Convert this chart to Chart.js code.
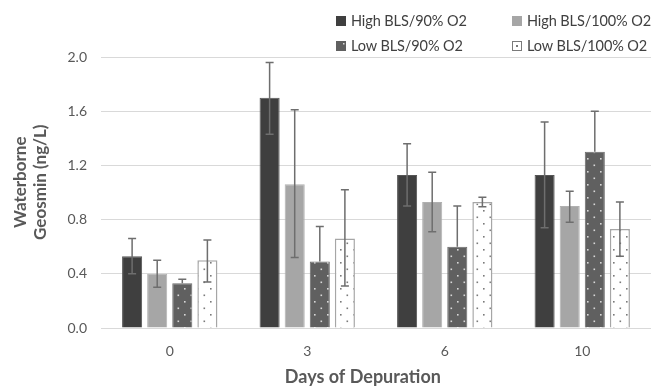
<!DOCTYPE html>
<html>
<head>
<meta charset="utf-8">
<script src="https://cdn.jsdelivr.net/npm/chart.js@4.4.1/dist/chart.umd.min.js"></script>
<style>
  body { margin: 0; background: #fff; font-family: Lato, "Open Sans", sans-serif; }
  #wrap { position: relative; width: 651px; height: 386px; overflow: hidden; }
  #legend { position: absolute; left: 336px; top: 12px; width: 315px; font-size: 14.5px; letter-spacing: -0.1px; color: #404040; }
  .item { position: absolute; display: flex; align-items: center; white-space: nowrap; }
  .item canvas { margin-right: 5px; }
</style>
</head>
<body>
<div id="wrap">
  <canvas id="chart" width="651" height="386"></canvas>
  <div id="legend"></div>
</div>
<script>
  // Donnees
  const days = ["0", "3", "6", "10"];
  const seriesNames = ["High BLS/90% O2", "High BLS/100% O2", "Low BLS/90% O2", "Low BLS/100% O2"];

  const high90 = [0.53, 1.70, 1.13, 1.13];
  const high100 = [0.40, 1.06, 0.93, 0.90];
  const low90 = [0.33, 0.49, 0.60, 1.30];
  const low100 = [0.50, 0.66, 0.93, 0.73];

  // bornes des barres d'erreur (haut / bas), null = pas visible
  const high90Upper = [0.66, 1.96, 1.36, 1.52];
  const high90Lower = [0.40, 1.43, 0.90, 0.74];
  const high100Upper = [0.50, 1.61, 1.15, 1.01];
  const high100Lower = [0.30, 0.52, 0.71, 0.78];
  const low90Upper = [0.36, 0.75, 0.90, 1.60];
  const low90Lower = [null, null, null, null];
  const low100Upper = [0.65, 1.02, 0.965, 0.93];
  const low100Lower = [0.34, 0.31, 0.895, 0.53];

  const yTicks = [0, 0.4, 0.8, 1.2, 1.6, 2.0];

  function makeDots(bg, dot) {
    const c = document.createElement("canvas");
    c.width = 13;
    c.height = 13;
    const g = c.getContext("2d");
    g.fillStyle = bg;
    g.fillRect(0, 0, 13, 13);
    g.fillStyle = dot;
    g.fillRect(2, 2, 1.6, 1.6);
    g.fillRect(8.5, 8.5, 1.6, 1.6);
    return g.createPattern(c, "repeat");
  }

  const ctx = document.getElementById("chart").getContext("2d");
  const low90Fill = makeDots("#606060", "#d8d8d8");
  const low100Fill = makeDots("#ffffff", "#7a7a7a");

  const errors = [
    [high90Upper, high90Lower],
    [high100Upper, high100Lower],
    [low90Upper, low90Lower],
    [low100Upper, low100Lower],
  ];

  const errorBars = {
    id: "errorBars",
    afterDatasetsDraw(chart) {
      const y = chart.scales.y;
      const c = chart.ctx;
      c.save();
      c.strokeStyle = "#6e6e6e";
      c.lineWidth = 1.5;
      chart.data.datasets.forEach((ds, i) => {
        const meta = chart.getDatasetMeta(i);
        const [up, lo] = errors[i];
        meta.data.forEach((bar, j) => {
          const yv = y.getPixelForValue(ds.data[j]);
          const yUp = y.getPixelForValue(up[j]);
          const yLo = lo[j] === null ? yv : y.getPixelForValue(lo[j]);
          c.beginPath();
          c.moveTo(bar.x, yUp);
          c.lineTo(bar.x, yLo);
          c.moveTo(bar.x - 4, yUp);
          c.lineTo(bar.x + 4, yUp);
          if (lo[j] !== null) {
            c.moveTo(bar.x - 4, yLo);
            c.lineTo(bar.x + 4, yLo);
          }
          c.stroke();
        });
      });
      c.restore();
    },
  };

  const fills = ["#3f3f3f", "#a6a6a6", low90Fill, low100Fill];
  const borders = ["#555555", "#b0b0b0", "#6a6a6a", "#a6a6a6"];
  const values = [high90, high100, low90, low100];

  new Chart(ctx, {
    type: "bar",
    data: {
      labels: days,
      datasets: values.map((v, i) => ({
        label: seriesNames[i],
        data: v,
        backgroundColor: fills[i],
        borderColor: borders[i],
        borderWidth: i === 3 ? 1.5 : 1,
        categoryPercentage: 0.73,
        barPercentage: 0.8,
      })),
    },
    options: {
      responsive: false,
      animation: false,
      layout: { padding: { top: 57, left: 10, right: 0, bottom: 0 } },
      plugins: {
        legend: { display: false },
        tooltip: { enabled: false },
      },
      scales: {
        y: {
          min: 0,
          max: 2.0,
          afterBuildTicks: (axis) => {
            axis.ticks = yTicks.map((v) => ({ value: v }));
          },
          afterFit: (axis) => {
            axis.width = 91;
          },
          ticks: {
            callback: (v) => Number(v).toFixed(1),
            color: "#595959",
            font: { family: "Lato", size: 14 },
            padding: 14,
          },
          grid: { color: "#d9d9d9", lineWidth: 1, drawTicks: false },
          border: { display: false },
          title: {
            display: true,
            text: ["     Waterborne", "     Geosmin (ng/L)"],
            color: "#595959",
            font: { family: "Lato", size: 17, weight: "bold", lineHeight: 1.2 },
            padding: { top: 0, bottom: 10 },
          },
        },
        x: {
          afterFit: (axis) => {
            axis.height = 58;
          },
          grid: { display: false },
          border: { color: "#d9d9d9" },
          ticks: {
            color: "#595959",
            font: { family: "Lato", size: 14 },
            padding: 7,
          },
          title: {
            display: true,
            text: "Days of Depuration      ",
            color: "#595959",
            font: { family: "Lato", size: 18, weight: "bold", lineHeight: 1 },
            padding: { top: 0, bottom: 0 },
          },
        },
      },
    },
    plugins: [errorBars],
  });

  // Legende HTML en 2 x 2
  const legend = document.getElementById("legend");
  const pos = [[0, 0], [176, 0], [0, 25], [176, 25]];
  seriesNames.forEach((name, i) => {
    const item = document.createElement("div");
    item.className = "item";
    item.style.left = pos[i][0] + "px";
    item.style.top = pos[i][1] + "px";
    const sw = document.createElement("canvas");
    sw.width = 10;
    sw.height = 10;
    const g = sw.getContext("2d");
    if (i === 3) {
      g.fillStyle = "#ffffff";
      g.fillRect(0, 0, 10, 10);
      g.strokeStyle = "#7a7a7a";
      g.lineWidth = 1;
      g.strokeRect(0.5, 0.5, 9, 9);
      g.fillStyle = "#7a7a7a";
      g.fillRect(4, 4, 2, 2);
    } else if (i === 2) {
      g.fillStyle = "#606060";
      g.fillRect(0, 0, 10, 10);
      g.fillStyle = "#d8d8d8";
      g.fillRect(7, 2, 1.5, 1.5);
    } else {
      g.fillStyle = fills[i];
      g.fillRect(0, 0, 10, 10);
    }
    const txt = document.createElement("span");
    txt.textContent = name;
    item.appendChild(sw);
    item.appendChild(txt);
    legend.appendChild(item);
  });
</script>
</body>
</html>
